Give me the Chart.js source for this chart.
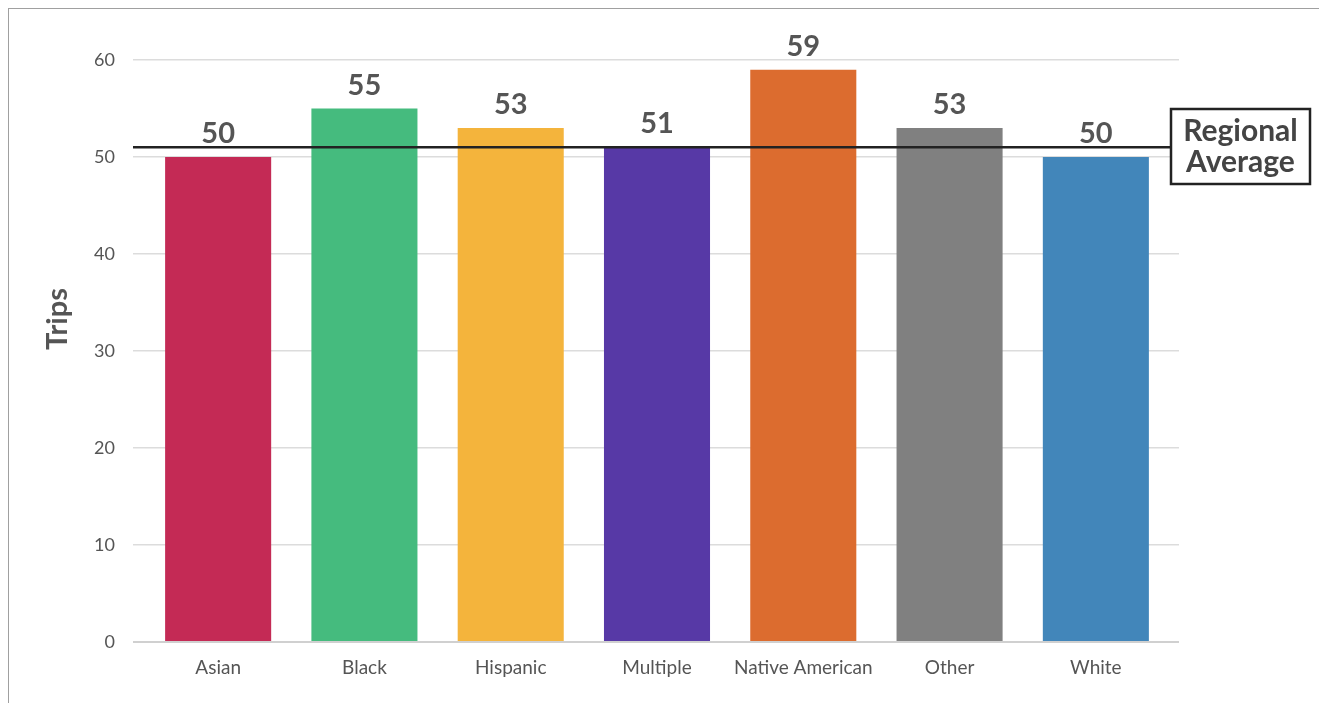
<!DOCTYPE html>
<html>
<head>
<meta charset="utf-8">
<script src="https://cdn.jsdelivr.net/npm/chart.js@4/dist/chart.umd.min.js"></script>
<style>
  html, body { margin: 0; padding: 0; background: #fff; overflow: hidden; }
  #frame {
    position: absolute; left: 8px; top: 8px; width: 1400px; height: 800px;
    border-left: 1px solid #a0a0a0; border-top: 1px solid #a0a0a0;
  }
  #wrap { position: absolute; left: 0; top: 0; width: 1319px; height: 703px; }
</style>
</head>
<body>
<div id="frame"></div>
<div id="wrap"><canvas id="tripsChart" width="1319" height="703"></canvas></div>
<script>
const groups = ['Asian', 'Black', 'Hispanic', 'Multiple', 'Native American', 'Other', 'White'];
const trips = [50, 55, 53, 51, 59, 53, 50];
const barColors = ['#C42A55', '#45BB7E', '#F4B43C', '#5739A6', '#DC6C2F', '#808080', '#4286BA'];
const yTicks = [0, 10, 20, 30, 40, 50, 60];
const regionalAverage = 51;

const fontFamily = 'Lato, "Open Sans", sans-serif';
const textColor = '#555555';
const gridColor = '#dcdcdc';

// value labels above each bar
const barLabels = {
    id: 'barLabels',
    afterDatasetsDraw(chart) {
        const ctx = chart.ctx;
        const meta = chart.getDatasetMeta(0);
        ctx.save();
        ctx.font = 'bold 29px ' + fontFamily;
        ctx.fillStyle = textColor;
        ctx.textAlign = 'center';
        ctx.textBaseline = 'alphabetic';
        meta.data.forEach((bar, i) => {
            ctx.fillText(String(trips[i]), bar.x, bar.y - 14);
        });
        ctx.restore();
    }
};

// horizontal average line with boxed caption on the right
const averageLine = {
    id: 'averageLine',
    afterDatasetsDraw(chart) {
        const ctx = chart.ctx;
        const yScale = chart.scales.y;
        const y = yScale.getPixelForValue(regionalAverage);
        const boxLeft = 1171, boxRight = 1310, boxTop = 109, boxBottom = 184;
        ctx.save();
        ctx.strokeStyle = '#222222';
        ctx.lineWidth = 2.5;
        ctx.beginPath();
        ctx.moveTo(yScale.right - 12, y);
        ctx.lineTo(boxLeft, y);
        ctx.stroke();

        ctx.fillStyle = '#ffffff';
        ctx.fillRect(boxLeft, boxTop, boxRight - boxLeft, boxBottom - boxTop);
        ctx.strokeRect(boxLeft, boxTop, boxRight - boxLeft, boxBottom - boxTop);

        ctx.fillStyle = '#444444';
        ctx.font = 'bold 30px ' + fontFamily;
        ctx.textAlign = 'center';
        ctx.textBaseline = 'middle';
        const cx = (boxLeft + boxRight) / 2;
        ctx.fillText('Regional', cx, 131);
        ctx.fillText('Average', cx, 162);
        ctx.restore();
    }
};

// rotated y axis title
const axisTitle = {
    id: 'axisTitle',
    afterDraw(chart) {
        const ctx = chart.ctx;
        ctx.save();
        ctx.translate(58, 319);
        ctx.rotate(-Math.PI / 2);
        ctx.font = 'bold 29px ' + fontFamily;
        ctx.fillStyle = textColor;
        ctx.textAlign = 'center';
        ctx.textBaseline = 'middle';
        ctx.fillText('Trips', 0, 0);
        ctx.restore();
    }
};

const ctx = document.getElementById('tripsChart');

const data = {
    labels: groups,
    datasets: [{
        label: 'Trips',
        data: trips,
        backgroundColor: barColors,
        borderWidth: 0,
        categoryPercentage: 1,
        barPercentage: 0.725
    }]
};

function useTicks(scale) {
    scale.ticks = yTicks.map(v => ({ value: v }));
}

const options = {
    responsive: false,
    animation: false,
    layout: {
        padding: { top: 60, right: 140, bottom: 0, left: 0 }
    },
    plugins: {
        legend: { display: false },
        tooltip: { enabled: false }
    },
    scales: {
        x: {
            grid: { display: false, drawTicks: false },
            border: { display: false },
            ticks: {
                color: textColor,
                font: { family: fontFamily, size: 19 },
                padding: 14,
                maxRotation: 0
            },
            afterFit(scale) { scale.height = 61; }
        },
        y: {
            min: 0,
            max: 60,
            afterBuildTicks: useTicks,
            grid: {
                color: c => c.tick.value === 0 ? '#d0d0d0' : gridColor,
                lineWidth: c => c.tick.value === 0 ? 2 : 1.5,
                drawTicks: true,
                tickLength: 12
            },
            border: { display: false },
            ticks: {
                color: textColor,
                font: { family: fontFamily, size: 18 },
                padding: 18
            },
            afterFit(scale) { scale.width = 145; }
        },
        // right-hand stub so the gridlines run a little past the last bar
        yRight: {
            position: 'right',
            min: 0,
            max: 60,
            afterBuildTicks: useTicks,
            grid: {
                drawOnChartArea: false,
                color: c => c.tick.value === 0 ? '#d0d0d0' : gridColor,
                lineWidth: c => c.tick.value === 0 ? 2 : 1.5,
                drawTicks: true,
                tickLength: 10
            },
            border: { display: false },
            ticks: { display: false },
            afterFit(scale) { scale.width = 10; }
        }
    }
};

new Chart(ctx, {
    type: 'bar',
    data: data,
    options: options,
    plugins: [barLabels, averageLine, axisTitle]
});
</script>
</body>
</html>
